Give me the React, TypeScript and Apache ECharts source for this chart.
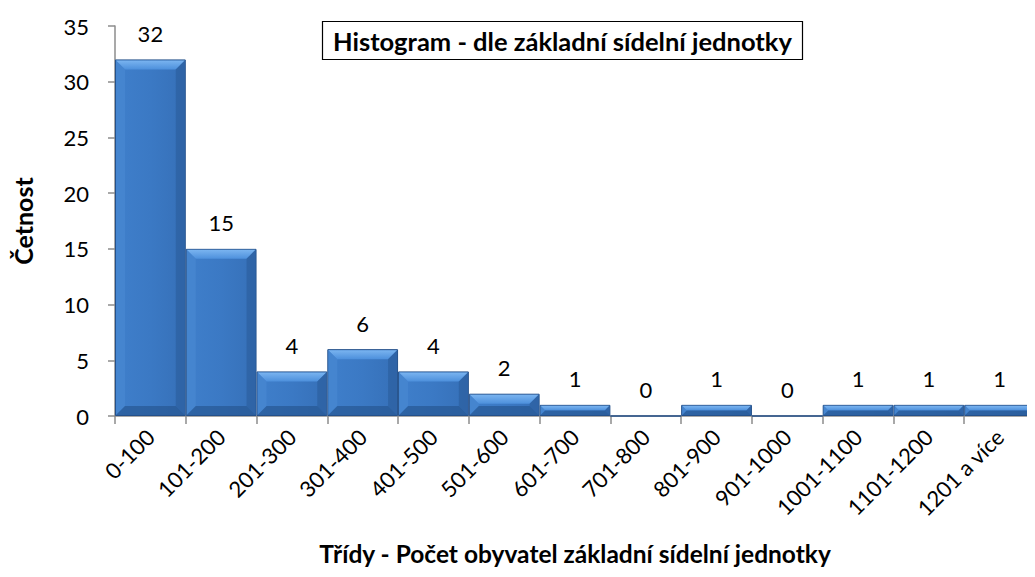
import React, { useEffect, useRef } from "react";
import * as echarts from "echarts";

const categories = [
  "0-100", "101-200", "201-300", "301-400", "401-500", "501-600", "601-700",
  "701-800", "801-900", "901-1000", "1001-1100", "1101-1200", "1201 a více",
];
const counts = [32, 15, 4, 6, 4, 2, 1, 0, 1, 0, 1, 1, 1];
const yTicks = [0, 5, 10, 15, 20, 25, 30, 35];

const FONT = "Lato, 'Open Sans', sans-serif";

export default function App() {
  const ref = useRef<HTMLDivElement>(null);
  useEffect(() => {
    if (!ref.current) return;
    const chart = echarts.init(ref.current, undefined, { renderer: "svg" });
    const bevel = 9;
    chart.setOption({
      animation: false,
      title: {
        text: "Histogram - dle základní sídelní jednotky",
        left: 322,
        top: 21,
        borderColor: "#000",
        borderWidth: 1.2,
        padding: [7, 11, 6, 11],
        textStyle: { fontFamily: FONT, fontSize: 25.5, fontWeight: "bold", color: "#000" },
      },
      grid: { left: 115, right: 0, top: 26, bottom: 161, containLabel: false, outerBoundsMode: "none" },
      xAxis: {
        type: "category",
        data: categories,
        name: "Třídy - Počet obyvatel základní sídelní jednotky",
        nameLocation: "middle",
        nameGap: 125,
        nameTextStyle: { fontFamily: FONT, fontSize: 24.5, fontWeight: "bold", color: "#000" },
        axisLine: { lineStyle: { color: "#8c8c8c", width: 1.5 } },
        axisTick: { show: true, length: 8, lineStyle: { color: "#8c8c8c", width: 1.5 } },
        axisLabel: { rotate: 45, fontFamily: FONT, fontSize: 22, color: "#000", margin: 17, interval: 0 },
      },
      yAxis: {
        type: "value",
        min: yTicks[0],
        max: yTicks[yTicks.length - 1],
        interval: 5,
        name: "Četnost",
        nameLocation: "middle",
        nameGap: 80,
        nameTextStyle: { fontFamily: FONT, fontSize: 25, fontWeight: "bold", color: "#000" },
        axisLine: { show: true, lineStyle: { color: "#8c8c8c", width: 1.5 } },
        axisTick: { show: true, length: 7, lineStyle: { color: "#8c8c8c", width: 1.5 } },
        splitLine: { show: false },
        axisLabel: { fontFamily: FONT, fontSize: 22, color: "#000", margin: 26 },
      },
      series: [
        {
          type: "bar",
          data: counts,
          barCategoryGap: 0,
          itemStyle: {
            color: new echarts.graphic.LinearGradient(0, 0, 1, 0, [
              { offset: 0, color: "#3f7fcb" },
              { offset: 0.5, color: "#3b79c4" },
              { offset: 1, color: "#3670b8" },
            ]),
            borderColor: "#24508a",
            borderWidth: 1,
          },
          label: {
            show: true,
            position: "top",
            distance: 15,
            fontFamily: FONT,
            fontSize: 22,
            color: "#000",
          },
          z: 2,
        },
        {
          type: "custom",
          data: counts.map((v, i) => [i, v]),
          silent: true,
          z: 3,
          renderItem: (params: any, api: any) => {
            const v = api.value(1);
            if (!v) return null;
            const top = api.coord([api.value(0), v]);
            const base = api.coord([api.value(0), 0]);
            const w = api.size([1, 0])[0];
            const x0 = top[0] - w / 2 + 1;
            const x1 = top[0] + w / 2 - 1;
            const y0 = top[1] + 1;
            const y1 = base[1] - 1;
            const b = Math.min(bevel, (y1 - y0) / 2);
            return {
              type: "group",
              children: [
                {
                  type: "polygon",
                  shape: { points: [[x0, y0], [x1, y0], [x1 - b, y0 + b], [x0 + b, y0 + b]] },
                  style: {
                    fill: new echarts.graphic.LinearGradient(0, 0, 0, 1, [
                      { offset: 0, color: "#7ab4f0" },
                      { offset: 1, color: "#4d90dc" },
                    ]),
                  },
                },
                {
                  type: "polygon",
                  shape: { points: [[x1, y0], [x1, y1], [x1 - b, y1 - b], [x1 - b, y0 + b]] },
                  style: { fill: "#2c609f", opacity: 0.7 },
                },
                {
                  type: "polygon",
                  shape: { points: [[x0, y0], [x0 + b, y0 + b], [x0 + b, y1 - b], [x0, y1]] },
                  style: { fill: "#4a8ad4", opacity: 0.55 },
                },
                {
                  type: "polygon",
                  shape: { points: [[x0, y1], [x0 + b, y1 - b], [x1 - b, y1 - b], [x1, y1]] },
                  style: { fill: "#25548f", opacity: 0.65 },
                },
              ],
            };
          },
        },
      ],
    });
    return () => chart.dispose();
  }, []);
  return <div ref={ref} style={{ width: 1035, height: 577, margin: -8 }} />;
}
